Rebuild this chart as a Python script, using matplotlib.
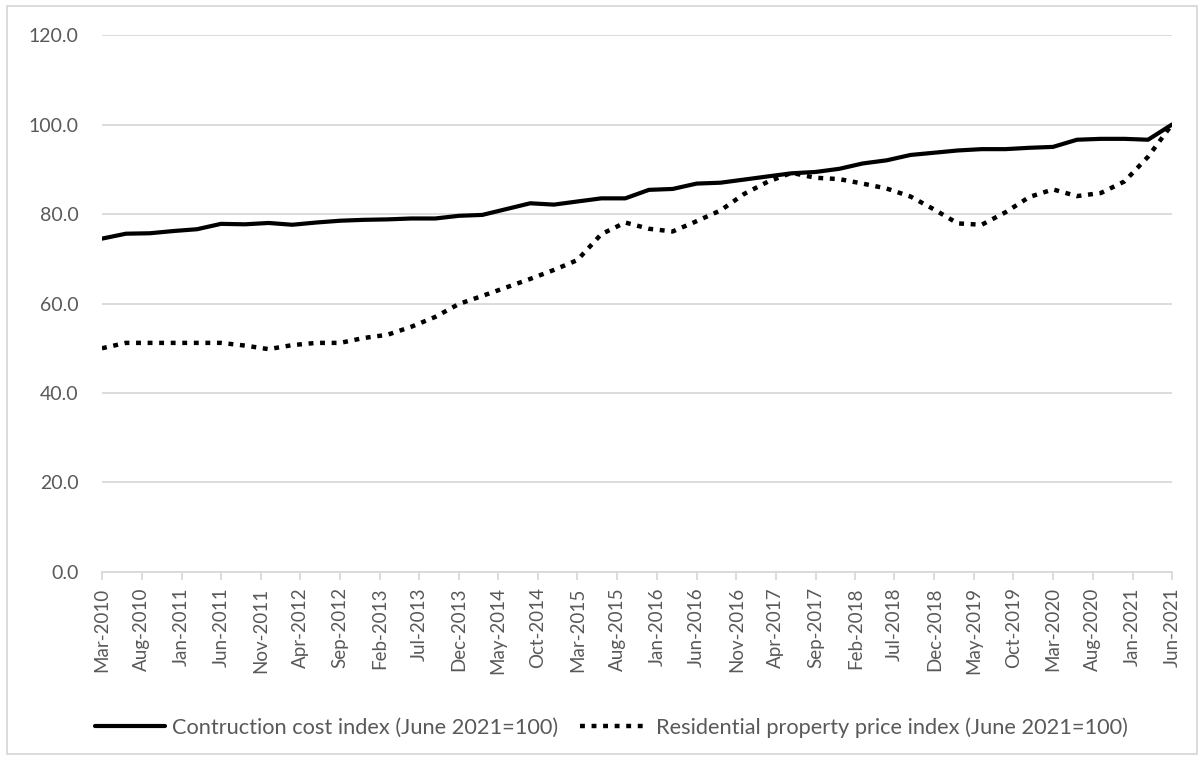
import numpy as np
import pandas as pd
import matplotlib
matplotlib.use('Agg')
import matplotlib.pyplot as plt
import matplotlib.dates as mdates
from matplotlib.patches import Rectangle

plt.rcParams['font.family'] = ['Lato', 'DejaVu Sans']

# quarterly observations, Mar-2010 .. Jun-2021
dates = pd.date_range('2010-03-01', periods=46, freq='3MS')
construction = [74.5, 75.6, 75.7, 76.2, 76.6, 77.8, 77.7, 78.0, 77.6, 78.1,
                78.5, 78.7, 78.8, 79.0, 79.0, 79.6, 79.8, 81.1, 82.4, 82.1,
                82.8, 83.5, 83.5, 85.4, 85.6, 86.8, 87.0, 87.7, 88.4, 89.1,
                89.4, 90.1, 91.3, 92.0, 93.2, 93.7, 94.2, 94.5, 94.5, 94.8,
                95.0, 96.6, 96.8, 96.8, 96.6, 100.0]
residential = [50.0, 51.2, 51.2, 51.2, 51.2, 51.2, 50.6, 49.8, 50.7, 51.2,
               51.2, 52.3, 53.0, 54.8, 57.0, 59.9, 61.7, 63.6, 65.5, 67.5,
               69.7, 75.5, 78.1, 76.7, 76.1, 78.4, 80.8, 84.5, 87.2, 89.2,
               88.1, 87.8, 86.8, 85.7, 83.9, 81.0, 77.9, 77.6, 80.4, 83.8,
               85.5, 84.0, 84.7, 87.3, 92.8, 100.0]
labels = ['Contruction cost index (June 2021=100)',
          'Residential property price index (June 2021=100)']

tick_dates = pd.date_range('2010-03-01', '2021-06-01', freq='5MS')
yticks = [0, 20, 40, 60, 80, 100, 120]

txt = '#595959'
grid = '#d9d9d9'

fig = plt.figure(figsize=(12.04, 7.6), dpi=100)
ax = fig.add_axes([0.0847, 0.2474, 0.8887, 0.7065])

ax.plot(dates, construction, color='black', lw=3.0, solid_capstyle='round',
        label=labels[0], zorder=3)
ax.plot(dates, residential, color='black', lw=3.2, linestyle=(0, (1.1, 1.5)),
        dash_capstyle='butt', label=labels[1], zorder=3)

ax.set_ylim(0, 120)
ax.set_yticks(yticks)
ax.set_yticklabels(['%.1f' % v for v in yticks])
ax.set_xlim(dates[0], dates[-1])
ax.set_xticks(tick_dates)
ax.xaxis.set_major_formatter(mdates.DateFormatter('%b-%Y'))
plt.setp(ax.get_xticklabels(), rotation=90)

ax.grid(axis='y', color=grid, lw=1.3)
ax.set_axisbelow(True)
for s in ['top', 'right', 'left']:
    ax.spines[s].set_visible(False)
ax.spines['bottom'].set_color(grid)
ax.spines['bottom'].set_linewidth(1.3)
ax.tick_params(axis='y', length=0, pad=17, labelsize=14, labelcolor=txt)
ax.tick_params(axis='x', length=6, width=1.3, color=grid, pad=5,
               labelsize=13.5, labelcolor=txt)

fig.legend(loc='center', bbox_to_anchor=(0.508, 0.043), ncol=2, frameon=False,
           fontsize=15.7, labelcolor=txt, handlelength=3.2, handletextpad=0.3,
           columnspacing=1.0)

# outer chart border
fig.patches.append(Rectangle((7 / 1204, 6 / 760), 1190 / 1204, 748 / 760,
                             transform=fig.transFigure, fill=False,
                             edgecolor=grid, lw=1.3))

fig.savefig('out.png', dpi=100)
